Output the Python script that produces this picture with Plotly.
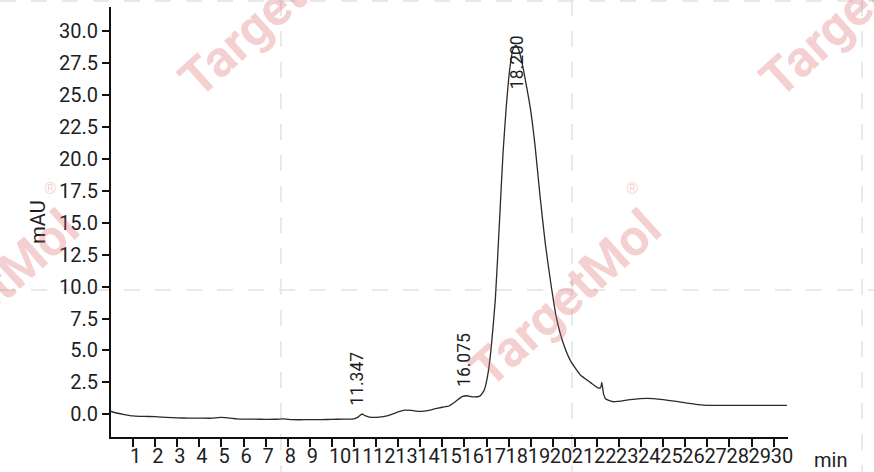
import numpy as np
import plotly.graph_objects as go

# ---- data ----
time_min = [0.0, 0.3, 0.6, 1.0, 1.5, 2.0, 2.5, 3.0, 3.5, 4.0, 4.5, 5.0, 5.3, 5.7, 6.0,
            6.5, 7.0, 7.5, 7.8, 8.2, 8.5, 9.0, 9.5, 10.0, 10.5, 11.0, 11.2, 11.35, 11.5,
            11.7, 12.0, 12.5, 13.0, 13.3, 13.6, 14.0, 14.5, 15.0, 15.3, 15.6, 15.9, 16.1,
            16.4, 16.7, 16.9, 17.05, 17.2, 17.4, 17.6, 17.75, 17.9, 18.05, 18.2, 18.32,
            18.45, 18.6, 18.8, 19.0, 19.2, 19.43, 19.66, 19.9, 20.16, 20.43, 20.8, 21.24,
            21.7, 22.07, 22.17, 22.22, 22.3, 22.4, 22.75, 23.5, 24.26, 25.0, 26.0, 26.82,
            28.0, 29.0, 30.6]
signal_mau = [0.22, 0.08, -0.02, -0.13, -0.17, -0.18, -0.24, -0.28, -0.30, -0.30, -0.31,
              -0.25, -0.28, -0.36, -0.38, -0.38, -0.40, -0.39, -0.36, -0.42, -0.43, -0.42,
              -0.42, -0.40, -0.38, -0.36, -0.20, 0.02, -0.10, -0.22, -0.24, -0.12, 0.18,
              0.32, 0.30, 0.22, 0.35, 0.55, 0.65, 1.00, 1.38, 1.45, 1.36, 1.42, 1.90, 3.0,
              5.0, 9.0, 15.5, 20.5, 24.2, 27.0, 28.6, 28.9, 28.6, 27.6, 25.8, 23.8, 21.0,
              17.0, 13.4, 10.4, 7.6, 5.8, 4.2, 3.1, 2.5, 2.05, 2.1, 2.5, 1.6, 1.2, 0.98,
              1.15, 1.25, 1.15, 0.90, 0.72, 0.70, 0.70, 0.70]

peak_times = [11.347, 16.075, 18.200]
peak_labels = ["11.347", "16.075", "18.200"]
peak_label_yshift = [6, 7, -42]
peak_label_xshift = [-5, -2, 4]

x_tick_vals = list(range(1, 31))
x_tick_text = [str(v) for v in x_tick_vals]
y_tick_vals = [i * 2.5 for i in range(13)]
y_tick_text = [f"{v:.1f}" for v in y_tick_vals]

FONT = "Roboto"
TXT = "#1e1e1e"

fig = go.Figure()
fig.add_trace(go.Scatter(
    x=time_min, y=signal_mau, mode="lines",
    line=dict(color="#2a2a2a", width=1.3, shape="spline", smoothing=0.5),
    hoverinfo="x+y", showlegend=False))

# peak labels
for t, lab, sy, sx in zip(peak_times, peak_labels, peak_label_yshift, peak_label_xshift):
    yv = float(np.interp(t, time_min, signal_mau))
    fig.add_annotation(x=t, y=yv, xref="x", yref="y", text=lab, showarrow=False,
                       textangle=-90, xanchor="center", yanchor="bottom", yshift=sy,
                       xshift=sx, font=dict(family=FONT, size=17.5, color=TXT))

# x axis unit label
fig.add_annotation(x=1, y=0, xref="paper", yref="paper", text="min", showarrow=False,
                   xanchor="left", yanchor="middle", xshift=24, yshift=-23,
                   font=dict(family=FONT, size=20, color=TXT))

# ---- background watermark grid & text (decoration) ----
W, H = 874, 472
L, R, T, B = 111, 86, 7, 35
pw, ph = W - L - R, H - T - B

def px_x(p):
    return (p - L) / pw

def px_y(p):
    return (H - B - p) / ph

grid_style = dict(color="#e9e9e9", width=2, dash="16px,15px")
for gx in [281, 572, 862]:
    fig.add_shape(type="line", xref="paper", yref="paper", x0=px_x(gx), x1=px_x(gx),
                  y0=px_y(0), y1=px_y(H), line=grid_style, layer="below")
for gy in [1, 290]:
    fig.add_shape(type="line", xref="paper", yref="paper", x0=px_x(0), x1=px_x(W),
                  y0=px_y(gy), y1=px_y(gy), line=grid_style, layer="below")

wm_color = "rgba(222,100,100,0.3)"
for cx, cy in [(274, 8), (855, 8), (-17, 298), (565, 298)]:
    fig.add_annotation(x=px_x(cx), y=px_y(cy), xref="paper", yref="paper",
                       text="<b>TargetMol</b>", showarrow=False, textangle=-42,
                       xanchor="center", yanchor="middle",
                       font=dict(family=FONT, size=51, color=wm_color))
    fig.add_annotation(x=px_x(cx + 67), y=px_y(cy - 110), xref="paper", yref="paper",
                       text="®", showarrow=False, xanchor="center", yanchor="middle",
                       font=dict(family=FONT, size=16, color=wm_color))

fig.update_layout(
    width=W, height=H,
    margin=dict(l=L, r=R, t=T, b=B, autoexpand=False),
    paper_bgcolor="white", plot_bgcolor="rgba(0,0,0,0)",
    font=dict(family=FONT, size=20, color=TXT),
    showlegend=False,
)
fig.update_xaxes(
    range=[0, 30.65], showgrid=False, zeroline=False, automargin=False,
    showline=True, linecolor="#111111", linewidth=2,
    ticks="outside", ticklen=8, tickwidth=2, tickcolor="#111111",
    tickmode="array", tickvals=x_tick_vals, ticktext=x_tick_text,
    tickangle=0, ticklabelposition="outside right", ticklabelshift=-5,
    tickfont=dict(family=FONT, size=20, color=TXT),
)
fig.update_yaxes(
    range=[-1.78, 31.9], showgrid=False, zeroline=False, automargin=False,
    showline=True, linecolor="#111111", linewidth=2,
    ticks="outside", ticklen=7, tickwidth=2, tickcolor="#111111",
    tickmode="array", tickvals=y_tick_vals, ticktext=y_tick_text,
    tickfont=dict(family=FONT, size=20, color=TXT),
    title=dict(text="mAU", standoff=8, font=dict(family=FONT, size=20, color=TXT)),
)

fig.write_html(
    "out.html",
    config={"displayModeBar": False},
    post_script="document.body.style.margin='0px';document.body.style.overflow='hidden';",
)
